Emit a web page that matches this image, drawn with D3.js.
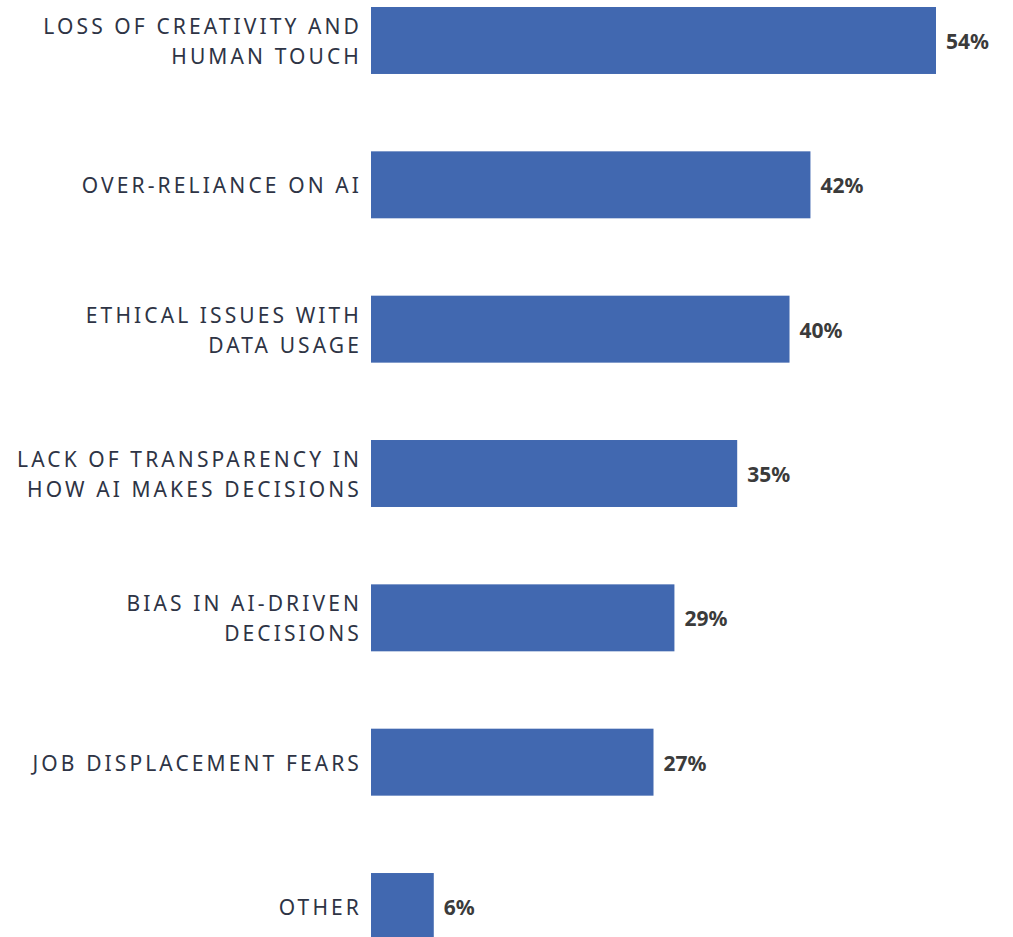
<!DOCTYPE html>
<html>
<head>
<meta charset="utf-8">
<script src="https://cdn.jsdelivr.net/npm/d3@7"></script>
<style>
  html, body { margin: 0; padding: 0; background: #ffffff; }
  svg { display: block; }
</style>
</head>
<body>
<div id="chart"></div>
<script>
// Concerns about AI, share of respondents
const categories = [
  ["LOSS OF CREATIVITY AND", "HUMAN TOUCH"],
  ["OVER-RELIANCE ON AI"],
  ["ETHICAL ISSUES WITH", "DATA USAGE"],
  ["LACK OF TRANSPARENCY IN", "HOW AI MAKES DECISIONS"],
  ["BIAS IN AI-DRIVEN", "DECISIONS"],
  ["JOB DISPLACEMENT FEARS"],
  ["OTHER"]
];
const values = [54, 42, 40, 35, 29, 27, 6];
const valueLabels = ["54%", "42%", "40%", "35%", "29%", "27%", "6%"];

const width = 1013, height = 937;
const barLeft = 371;

const svg = d3.select("#chart").append("svg")
  .attr("width", width)
  .attr("height", height);

const keys = categories.map((c, i) => i);

const x = d3.scaleLinear().domain([0, 54]).range([barLeft, 936]);
const y = d3.scaleBand().domain(keys).range([7, 940]).paddingInner(0.536).paddingOuter(0);

// bars
svg.selectAll("rect.bar")
  .data(values)
  .join("rect")
  .attr("class", "bar")
  .attr("x", x(0))
  .attr("y", (d, i) => y(i))
  .attr("width", d => x(d) - x(0))
  .attr("height", y.bandwidth())
  .attr("fill", "#4168b0");

// value labels
svg.selectAll("text.value")
  .data(values)
  .join("text")
  .attr("class", "value")
  .attr("x", d => x(d) + 10)
  .attr("y", (d, i) => y(i) + y.bandwidth() / 2 + 8.5)
  .attr("font-family", "'Noto Sans', sans-serif")
  .attr("font-weight", 700)
  .attr("font-size", 21)
  .attr("fill", "#3b3b3b")
  .text((d, i) => valueLabels[i]);

// category labels, right-aligned against the bars
const lineGap = 30;
const cat = svg.selectAll("text.cat")
  .data(categories)
  .join("text")
  .attr("class", "cat")
  .attr("text-anchor", "end")
  .attr("font-family", "'Noto Sans', sans-serif")
  .attr("font-size", 21)
  .attr("letter-spacing", "3.1px")
  .attr("fill", "#2e3445");

cat.each(function (lines, i) {
  const cy = y(i) + y.bandwidth() / 2 + 1;
  const first = cy + 7.5 - (lines.length - 1) * lineGap / 2;
  d3.select(this).selectAll("tspan")
    .data(lines)
    .join("tspan")
    .attr("x", 362)
    .attr("y", (d, j) => first + j * lineGap)
    .text(d => d);
});
</script>
</body>
</html>
